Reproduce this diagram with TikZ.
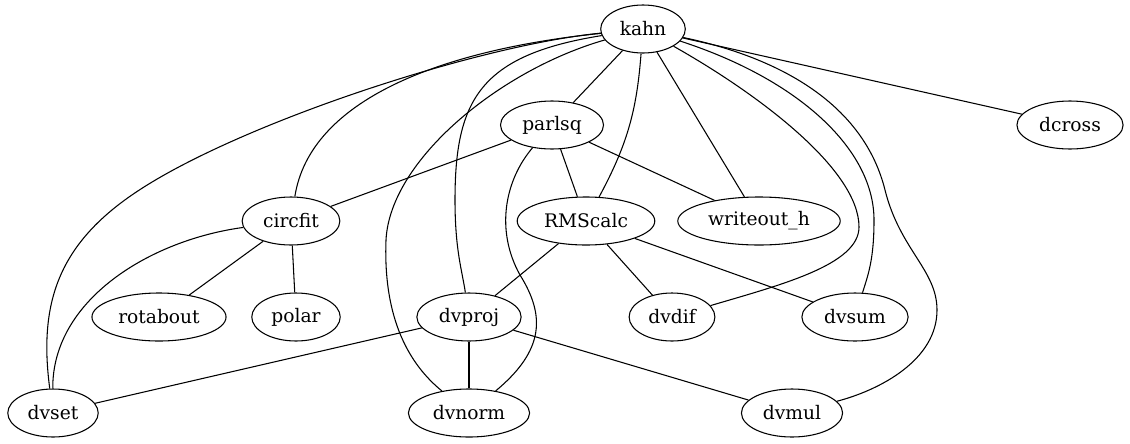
\documentclass[tikz,border=0pt]{standalone}
\usepackage{fontspec}
\setmainfont{DejaVu Serif}
\usetikzlibrary{shapes.geometric}

\begin{document}
\begin{tikzpicture}[x=0.75pt, y=-0.75pt, line width=0.8pt,
  fn/.style={draw, ellipse, inner xsep=5pt, inner ysep=1pt,
    minimum height=36pt, font=\fontsize{14}{16}\selectfont}]
\useasboundingbox (0,0) rectangle (1130,443);
\node[fn] (kahn) at (643,29) {kahn};
\node[fn] (parlsq) at (552,125) {parlsq};
\node[fn] (dcross) at (1070,125) {dcross};
\node[fn] (circfit) at (291,221) {circfit};
\node[fn] (rmscalc) at (586,221) {RMScalc};
\node[fn] (writeouth) at (759,221) {writeout\_h};
\node[fn] (rotabout) at (159,317) {rotabout};
\node[fn] (polar) at (296,317) {polar};
\node[fn] (dvproj) at (469,317) {dvproj};
\node[fn] (dvdif) at (672,317) {dvdif};
\node[fn] (dvsum) at (855,317) {dvsum};
\node[fn] (dvset) at (53,413) {dvset};
\node[fn] (dvnorm) at (469,413) {dvnorm};
\node[fn] (dvmul) at (792,413) {dvmul};
\foreach \a/\b in {kahn/parlsq, kahn/writeouth, kahn/dcross,
    parlsq/circfit, parlsq/rmscalc, parlsq/writeouth,
    circfit/rotabout, circfit/polar, rmscalc/dvproj, rmscalc/dvdif,
    rmscalc/dvsum, dvproj/dvset, dvproj/dvnorm, dvproj/dvmul}
  \draw (\a) -- (\b);
\draw (kahn) to[bend left=12] (rmscalc);
\draw (kahn) .. controls (440,50) and (310,100) .. (circfit);
\draw (kahn) .. controls (480,45) and (250,120) .. (144,187)
  .. controls (60,240) and (38,300) .. (dvset);
\draw (kahn) .. controls (480,55) and (455,100) .. (455,200)
  .. controls (455,250) and (462,270) .. (dvproj);
\draw (kahn) .. controls (500,70) and (390,160) .. (386,240)
  .. controls (383,320) and (410,365) .. (dvnorm);
\draw (kahn) .. controls (760,95) and (859,170) .. (859,227)
  .. controls (859,265) and (780,285) .. (dvdif);
\draw (kahn) .. controls (800,80) and (874,150) .. (874,220)
  .. controls (874,260) and (868,275) .. (dvsum);
\draw (kahn) .. controls (790,60) and (865,110) .. (885,190)
  .. controls (900,250) and (937,270) .. (937,310)
  .. controls (937,360) and (880,390) .. (dvmul);
\draw (parlsq) .. controls (505,180) and (495,230) .. (520,275)
  .. controls (545,315) and (545,350) .. (dvnorm);
\draw (circfit) .. controls (150,240) and (52,300) .. (dvset);
\end{tikzpicture}
\end{document}
